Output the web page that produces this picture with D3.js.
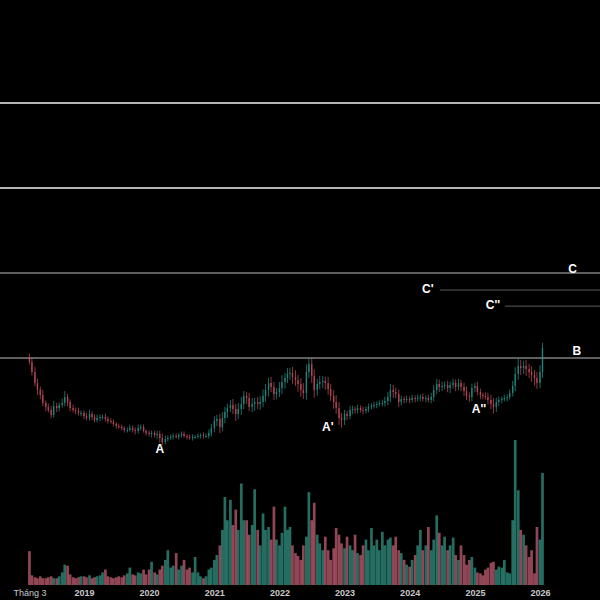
<!DOCTYPE html>
<html>
<head>
<meta charset="utf-8">
<script src="https://cdn.jsdelivr.net/npm/d3@7"></script>
<style>
  html, body { margin: 0; padding: 0; background: #000; }
  svg { display: block; }
</style>
</head>
<body>
<svg id="chart"></svg>
<script>
// semi-monthly candles, Mar 2018 -> Jan 2026
const startDate = new Date(2018, 2, 1);
const open0 = 30.1;
const closes = [
  29.53, 28.35, 27.06, 26.24, 25.65, 24.71, 24.24, 23.88, 23.29, 24.35,
  24.12, 24.47, 24.71, 25.41, 24.82, 24.12, 23.88, 23.76, 23.53, 23.53,
  23.18, 22.94, 23.41, 23.06, 22.71, 22.94, 23.06, 23.06, 22.82, 22.59,
  22.47, 22.24, 22.00, 21.88, 21.76, 21.53, 21.53, 21.76, 21.53, 21.41,
  21.76, 21.88, 21.41, 21.18, 21.06, 21.18, 20.94, 21.06, 20.59, 20.12,
  20.47, 20.59, 20.71, 20.82, 20.71, 20.94, 21.06, 20.82, 20.71, 20.59,
  20.71, 20.71, 20.82, 20.94, 20.82, 20.82, 21.18, 21.76, 22.59, 22.82,
  21.88, 22.94, 23.65, 24.12, 24.47, 24.00, 23.41, 24.00, 24.59, 25.53,
  25.29, 24.24, 24.59, 24.82, 24.59, 24.82, 25.53, 26.24, 27.06, 26.59,
  25.76, 26.00, 26.47, 27.18, 27.65, 28.12, 28.24, 27.76, 27.41, 26.94,
  26.24, 25.88, 28.35, 29.29, 27.88, 26.24, 26.94, 27.18, 27.29, 27.06,
  26.35, 25.53, 24.82, 24.12, 22.94, 22.71, 23.41, 23.18, 23.88, 24.00,
  23.88, 24.12, 23.88, 23.76, 24.00, 24.24, 24.35, 24.47, 24.59, 24.71,
  24.71, 24.94, 25.41, 26.24, 26.00, 25.76, 24.82, 25.18, 25.06, 25.18,
  25.06, 25.29, 25.18, 25.29, 25.41, 25.18, 25.29, 25.06, 25.41, 26.24,
  26.94, 26.59, 26.71, 26.82, 26.47, 26.82, 27.06, 26.59, 27.06, 26.59,
  26.12, 25.53, 25.41, 26.47, 26.71, 26.00, 25.65, 25.53, 25.41, 25.06,
  24.59, 24.24, 24.82, 25.06, 25.18, 25.29, 25.41, 25.88, 26.71, 28.12,
  29.06, 28.82, 29.06, 28.71, 28.35, 28.00, 27.65, 27.06, 28.35, 31.18
];
// wick extents above / below the body, in tenths of a price unit
const wickUp = [
  4, 5, 6, 5, 4, 6, 3, 4, 5, 6, 4, 3, 5, 7, 4, 3, 4, 3, 4, 3,
  3, 4, 5, 3, 3, 4, 3, 3, 4, 3, 3, 3, 2, 3, 3, 2, 3, 4, 3, 3, 4, 3, 3, 2,
  3, 3, 3, 4, 4, 5, 4, 3, 3, 3, 3, 2, 3, 3, 2, 3, 3, 2, 3, 2, 3, 3, 4, 5,
  6, 5, 6, 7, 6, 5, 6, 7, 6, 7, 8, 6, 5, 6, 7, 5, 6, 7, 8, 7, 6, 7, 6, 5,
  7, 8, 6, 7, 6, 7, 8, 6, 7, 8, 9, 8, 7, 8, 6, 7, 6, 5, 7, 6, 7, 8, 7, 6,
  5, 4, 5, 4, 3, 4, 3, 4, 3, 4, 3, 4, 3, 3, 4, 5, 6, 7, 6, 5, 5, 4, 3, 4,
  3, 4, 3, 4, 3, 4, 3, 4, 5, 6, 6, 5, 5, 4, 5, 4, 5, 4, 5, 4, 5, 5, 4, 5,
  4, 5, 4, 3, 4, 5, 6, 7, 5, 4, 3, 4, 3, 4, 6, 8, 9, 7, 6, 7, 6, 7, 6, 7,
  8, 6
];
const wickDown = [
  3, 4, 4, 6, 5, 4, 5, 3, 4, 3, 5, 4, 3, 4, 5, 4, 3, 4, 3, 4,
  4, 3, 3, 4, 3, 3, 4, 3, 3, 3, 2, 3, 3, 2, 3, 3, 3, 2, 3, 4, 3, 3, 2, 3,
  3, 4, 3, 5, 6, 4, 3, 3, 2, 3, 2, 3, 3, 2, 3, 2, 3, 2, 2, 3, 3, 2, 3, 4,
  5, 6, 7, 5, 6, 7, 5, 6, 8, 6, 7, 6, 7, 5, 6, 8, 6, 7, 6, 7, 8, 6, 7, 6,
  6, 7, 8, 6, 7, 8, 7, 9, 8, 7, 8, 7, 8, 9, 7, 6, 7, 8, 7, 6, 8, 7, 8, 9,
  6, 5, 4, 5, 4, 4, 3, 4, 3, 4, 3, 3, 4, 3, 4, 4, 5, 6, 7, 5, 6, 4, 4, 3,
  4, 3, 4, 3, 4, 3, 4, 3, 4, 5, 5, 6, 5, 4, 5, 6, 4, 5, 4, 5, 6, 5, 6, 5,
  5, 4, 5, 4, 3, 5, 6, 8, 6, 5, 4, 3, 4, 3, 4, 6, 7, 8, 7, 8, 7, 8, 9, 7,
  6, 7
];
const volumes = [
  3.5, 1.0, 0.8, 0.7, 0.9, 0.7, 0.7, 0.8, 0.9, 0.7,
  0.7, 0.9, 1.3, 2.1, 2.0, 1.1, 0.8, 0.7, 0.8, 0.9,
  0.9, 0.8, 1.0, 0.7, 0.8, 0.9, 1.0, 1.3, 1.6, 0.9,
  0.8, 0.7, 0.8, 0.9, 0.8, 1.0, 1.2, 1.8, 1.1, 1.0,
  1.3, 1.2, 1.6, 1.1, 1.6, 2.4, 1.3, 1.1, 1.6, 2.0,
  2.6, 3.6, 1.8, 2.0, 3.3, 1.6, 2.0, 2.6, 1.6, 1.8,
  1.3, 2.9, 1.3, 0.9, 0.7, 0.9, 1.6, 1.8, 2.6, 3.1,
  4.1, 5.7, 9.1, 6.7, 8.8, 6.2, 7.8, 5.7, 10.5, 6.7,
  6.7, 5.2, 6.2, 9.9, 5.7, 4.1, 7.4, 5.7, 6.0, 4.7,
  8.1, 4.7, 4.1, 5.4, 8.1, 5.7, 6.0, 4.1, 3.3, 3.0,
  2.6, 4.1, 5.0, 9.6, 6.7, 8.5, 5.2, 4.3, 3.6, 5.0,
  3.6, 2.6, 3.8, 5.9, 5.2, 4.3, 3.8, 5.0, 4.1, 3.6,
  5.2, 3.3, 3.1, 4.1, 4.7, 3.6, 5.9, 4.1, 4.7, 3.6,
  5.5, 4.1, 4.7, 4.9, 4.1, 5.0, 3.6, 3.3, 2.6, 2.1,
  1.9, 2.6, 3.1, 4.1, 5.7, 3.6, 4.1, 6.0, 3.6, 4.7,
  7.2, 5.4, 4.1, 5.0, 3.6, 4.1, 4.9, 3.1, 2.6, 4.1,
  3.1, 2.1, 2.6, 2.9, 1.8, 1.3, 1.2, 1.0, 1.6, 1.8,
  2.3, 2.4, 1.6, 1.9, 1.8, 2.6, 1.3, 1.2, 6.7, 15.0,
  9.8, 5.7, 5.2, 4.1, 2.9, 3.6, 1.2, 6.0, 4.7, 11.6
];

// horizontal levels
const levelNames = ['', '', 'C', 'B'];
const levelPrices = [60, 50, 40, 30];
const levelColors = ['#f2f2f2', '#f2f2f2', '#bdbdbd', '#bdbdbd'];
const levelWidths = [1.6, 1.6, 1, 1];
// partial levels (start date, price)
const subNames = ["C'", "C''"];
const subPrices = [38, 36.1];
const subStarts = [new Date(2024, 5, 18), new Date(2025, 5, 18)];
const subLabelDates = [new Date(2024, 3, 12), new Date(2025, 3, 12)];

// point annotations
const noteNames = ['A', "A'", "A''"];
const noteDates = [new Date(2020, 2, 1), new Date(2022, 8, 29), new Date(2025, 0, 24)];
const notePrices = [19.2, 21.8, 23.9];
const sideLabelDates = [new Date(2026, 6, 3), new Date(2026, 6, 26)];

const tickDates = [new Date(2018, 2, 1), new Date(2019, 0, 1), new Date(2020, 0, 1), new Date(2021, 0, 1),
  new Date(2022, 0, 1), new Date(2023, 0, 1), new Date(2024, 0, 1), new Date(2025, 0, 1), new Date(2026, 0, 1)];
const tickLabels = ['Tháng 3', '2019', '2020', '2021', '2022', '2023', '2024', '2025', '2026'];

const width = 600, height = 600;
const upColor = '#26a69a', downColor = '#e0566a';
const volUp = '#3aa895', volDown = '#de6c84';

const data = closes.map((c, i) => {
  const open = i === 0 ? open0 : closes[i - 1];
  return {
    date: new Date(startDate.getFullYear(), startDate.getMonth() + Math.floor(i / 2), i % 2 ? 15 : 1),
    open: open,
    close: c,
    high: Math.max(open, c) + wickUp[i] / 10,
    low: Math.min(open, c) - wickDown[i] / 10,
    volume: volumes[i]
  };
});

const svg = d3.select('#chart').attr('width', width).attr('height', height);
svg.append('rect').attr('width', width).attr('height', height).attr('fill', '#000');

const x = d3.scaleTime()
  .domain([new Date(2019, 0, 1), new Date(2026, 0, 1)])
  .range([84, 540]);
const y = d3.scaleLinear().domain([30, 60]).range([358, 103]);
const yVol = d3.scaleLinear().domain([0, 15]).range([585, 440]);

// volume
svg.append('g').selectAll('rect')
  .data(data)
  .join('rect')
  .attr('x', d => x(d.date) - 1.35)
  .attr('width', 2.7)
  .attr('y', d => yVol(d.volume))
  .attr('height', d => yVol(0) - yVol(d.volume))
  .attr('fill', d => d.close >= d.open ? volUp : volDown)
  .attr('opacity', 0.65);

// level lines
levelPrices.forEach((p, i) => {
  svg.append('line')
    .attr('x1', 0).attr('x2', width)
    .attr('y1', y(p)).attr('y2', y(p))
    .attr('stroke', levelColors[i])
    .attr('stroke-width', levelWidths[i]);
});
subPrices.forEach((p, i) => {
  svg.append('line')
    .attr('x1', x(subStarts[i])).attr('x2', width)
    .attr('y1', y(p)).attr('y2', y(p))
    .attr('stroke', '#5a5a5a')
    .attr('stroke-width', 1);
});

// candles
const candles = svg.append('g').selectAll('g')
  .data(data)
  .join('g')
  .attr('opacity', 0.8);
candles.append('line')
  .attr('x1', d => x(d.date)).attr('x2', d => x(d.date))
  .attr('y1', d => y(d.high)).attr('y2', d => y(d.low))
  .attr('stroke', d => d.close >= d.open ? upColor : downColor)
  .attr('stroke-width', 0.8);
candles.append('rect')
  .attr('x', d => x(d.date) - 0.7)
  .attr('width', 1.4)
  .attr('y', d => y(Math.max(d.open, d.close)))
  .attr('height', d => Math.max(1, Math.abs(y(d.open) - y(d.close))))
  .attr('fill', d => d.close >= d.open ? upColor : downColor);

// labels
const labelStyle = sel => sel
  .attr('fill', '#fff')
  .attr('font-family', '"Liberation Sans", Arial, sans-serif')
  .attr('font-weight', 'bold')
  .attr('font-size', 12)
  .attr('text-anchor', 'middle')
  .attr('dominant-baseline', 'middle');

svg.append('g').selectAll('text')
  .data(noteNames)
  .join('text')
  .call(labelStyle)
  .attr('x', (d, i) => x(noteDates[i]))
  .attr('y', (d, i) => y(notePrices[i]))
  .text(d => d);

svg.append('g').selectAll('text')
  .data(subNames)
  .join('text')
  .call(labelStyle)
  .attr('x', (d, i) => x(subLabelDates[i]))
  .attr('y', (d, i) => y(subPrices[i]))
  .text(d => d);

svg.append('g').selectAll('text')
  .data(['C', 'B'])
  .join('text')
  .call(labelStyle)
  .attr('x', (d, i) => x(sideLabelDates[i]))
  .attr('y', (d, i) => y(levelPrices[levelNames.indexOf(d)]) - (i === 0 ? 3 : 6))
  .text(d => d);

// time axis
const axis = svg.append('g')
  .attr('transform', 'translate(0,586)')
  .call(d3.axisBottom(x).tickValues(tickDates).tickSize(0).tickPadding(4)
    .tickFormat((d, i) => tickLabels[i]));
axis.select('.domain').remove();
axis.selectAll('text')
  .attr('fill', '#c8c8c8')
  .attr('font-family', '"Liberation Sans", Arial, sans-serif')
  .attr('font-size', 9)
  .attr('font-weight', (d, i) => i === 0 ? 'normal' : 'bold');
</script>
</body>
</html>
